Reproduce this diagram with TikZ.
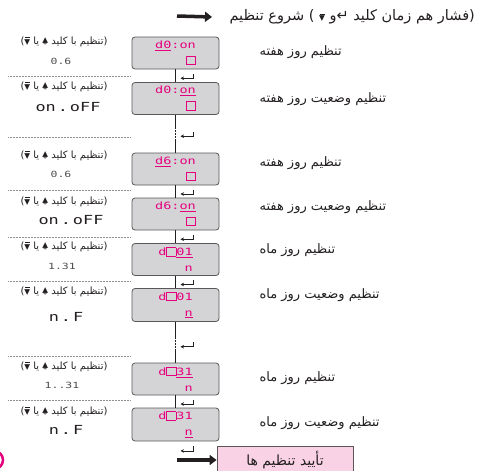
\documentclass[tikz,border=0pt]{standalone}
\usepackage{fontspec}
\setmainfont{DejaVu Sans}
\newfontfamily\farsi[Script=Arabic]{DejaVu Sans}
\newfontfamily\lcdfont[FakeStretch=1.35]{DejaVu Sans Mono}
\TeXXeTstate=1
\usetikzlibrary{arrows.meta,calc}
\definecolor{lcdgray}{HTML}{D4D4D6}
\definecolor{segmag}{HTML}{E5007D}
\definecolor{okpink}{HTML}{F9D3E5}
\definecolor{ink}{HTML}{231F20}
% Teclas de ajuste y casilla del visor
\newcommand{\upk}{\hbox{\fontsize{7.5}{7.5}\selectfont\raisebox{2pt}{▲}\llap{\makebox[5.8pt]{\fontsize{5.5}{5.5}\selectfont\raisebox{-1.6pt}{+}}}}}
\newcommand{\dnk}{\hbox{\fontsize{7.5}{7.5}\selectfont ▼\llap{\makebox[5.8pt]{\rule[6.1pt]{5pt}{0.8pt}}}}}
\newcommand{\sq}{{\setlength{\fboxsep}{0pt}\setlength{\fboxrule}{0.9pt}\fbox{\phantom{0}}}}
\begin{document}
\begin{tikzpicture}[
        x=1pt, y=-1pt,
        % Estilo para los visores LCD
        lcd/.style={draw=ink!75, fill=lcdgray, rounded corners=3pt, line width=0.8pt,
            minimum width=87pt, minimum height=32pt, align=right, text=segmag,
            font=\lcdfont\fontsize{10}{16}\selectfont},
        % Estilo para las descripciones de la derecha
        desc/.style={anchor=west, text=ink, font=\farsi\fontsize{13}{14}\selectfont},
        % Estilo para las indicaciones de teclas
        keyhint/.style={text=ink, inner sep=0.5pt, text height=7pt, text depth=2.5pt,
            font=\farsi\fontsize{10}{11}\selectfont},
        % Estilo para los rangos de valores
        valrange/.style={text=ink!80, inner sep=0.5pt, text height=6pt, text depth=0pt,
            font=\lcdfont\fontsize{8.5}{10}\selectfont},
        onoff/.style={text=ink, inner sep=0.5pt, text height=8.5pt, text depth=0pt,
            font=\lcdfont\fontsize{12.5}{14}\selectfont},
        % Estilo para los separadores punteados
        sep/.style={densely dotted, ink!50, line width=0.5pt},
        % Estilo para las flechas gruesas y las de retorno
        bigarrow/.style={line width=3.5pt, ink, -{Triangle[length=7pt,width=10pt]}},
        hook/.style={line width=0.7pt, ink, -{Stealth[length=3.5pt,width=3.5pt]}},
        okbox/.style={draw=ink!75, fill=okpink, line width=0.8pt, minimum width=136pt,
            minimum height=27pt, text=ink, font=\farsi\fontsize{14}{15}\selectfont}
    ]
        \useasboundingbox (0,0) rectangle (480,471);

        % --- Inicio del ajuste ---
        \coordinate (s1) at (177,16);
        \node[anchor=west, text=ink, font=\farsi\fontsize{14.5}{15}\selectfont] (start) at (226,17)
            {\beginR(فشار هم زمان کلید ↵و \dnk{} ) شروع تنظیم\endR};
        \draw[bigarrow] (s1) -- ([xshift=-14pt]start.west);

        % --- Visores LCD ---
        \node[lcd] (b1) at (175.5,53) {\underline{d0}:on\\\sq};
        \node[lcd] (b2) at (175.5,98.5) {d0:\underline{on}\\\sq};
        \node[lcd] (b3) at (175.5,169) {\underline{d6}:on\\\sq};
        \node[lcd] (b4) at (175.5,214) {d6:\underline{on}\\\sq};
        \node[lcd] (b5) at (175.5,259.5) {d\sq\underline{01}\\n};
        \node[lcd] (b6) at (175.5,305) {d\sq 01\\\underline{n}};
        \node[lcd] (b7) at (175.5,379) {d\sq\underline{31}\\n};
        \node[lcd] (b8) at (175.5,424.5) {d\sq 31\\\underline{n}};

        % --- Conexiones entre visores ---
        \draw[ink] (b1) -- (b2);
        \draw[ink] (b2.south) -- ++(0,12) coordinate (g1);
        \draw[sep, ink] (g1) -- ++(0,14) coordinate (g2);
        \draw[ink] (g2) -- (b3);
        \draw[ink] (b3) -- (b4);
        \draw[ink] (b4) -- (b5);
        \draw[ink] (b5) -- (b6);
        \draw[ink] (b6.south) -- ++(0,15) coordinate (g3);
        \draw[sep, ink] (g3) -- ++(0,14) coordinate (g4);
        \draw[ink] (g4) -- (b7);
        \draw[ink] (b7) -- (b8);

        % Flechas de retorno (tecla de confirmación)
        \draw[hook] ($(b1.south)!0.5!(b2.north)+(17.5,-2)$) |- ++(-12.5,4.5);
        \draw[hook] ($(b2.south)!0.5!(b3.north)+(17.5,-2)$) |- ++(-12.5,4.5);
        \draw[hook] ($(b3.south)!0.5!(b4.north)+(17.5,-2)$) |- ++(-12.5,4.5);
        \draw[hook] ($(b4.south)!0.5!(b5.north)+(17.5,-2)$) |- ++(-12.5,4.5);
        \draw[hook] ($(b5.south)!0.5!(b6.north)+(17.5,-2)$) |- ++(-12.5,4.5);
        \draw[hook] ($(b6.south)!0.5!(b7.north)+(17.5,0)$) |- ++(-12.5,4.5);
        \draw[hook] ($(b7.south)!0.5!(b8.north)+(17.5,-2)$) |- ++(-12.5,4.5);
        \draw[hook] ($(b8.south)+(17.5,5)$) |- ++(-12.5,4.5);

        % --- Confirmación final ---
        \node[okbox] (ok) at (285,460) {\beginR تأیید تنظیم ها\endR};
        \coordinate (s2) at (177,460);
        \draw[bigarrow] (s2) -- (ok.west);
        \draw[segmag, line width=2.5pt] (-6,460) circle (9);

        % --- Descripciones de la derecha ---
        \node[desc] (d1) at (256,52) {\beginR تنظیم روز هفته\endR};
        \node[desc] (d2) at (256,99) {\beginR تنظیم وضعیت روز هفته\endR};
        \node[desc] (d3) at (256,163) {\beginR تنظیم روز هفته\endR};
        \node[desc] (d4) at (256,207) {\beginR تنظیم وضعیت روز هفته\endR};
        \node[desc] (d5) at (256,250) {\beginR تنظیم روز ماه\endR};
        \node[desc] (d6) at (256,295) {\beginR تنظیم وضعیت روز ماه\endR};
        \node[desc] (d7) at (256,378) {\beginR تنظیم روز ماه\endR};
        \node[desc] (d8) at (256,423) {\beginR تنظیم وضعیت روز ماه\endR};

        % --- Indicaciones de teclas y rangos (izquierda) ---
        \node[keyhint] (k1) at (64,42) {\beginR(تنظیم با کلید \upk{} یا \dnk{})\endR};
        \node[valrange] (r1) at (61,61) {0.6};
        \node[keyhint] (k2) at (64,87) {\beginR(تنظیم با کلید \upk{} یا \dnk{})\endR};
        \node[onoff] (r2) at (68,107) {on\kern2pt.\kern2pt oFF};
        \node[keyhint] (k3) at (64,156) {\beginR(تنظیم با کلید \upk{} یا \dnk{})\endR};
        \node[valrange] (r3) at (61,174) {0.6};
        \node[keyhint] (k4) at (64,202) {\beginR(تنظیم با کلید \upk{} یا \dnk{})\endR};
        \node[onoff] (r4) at (71,220) {on\kern2pt.\kern2pt oFF};
        \node[keyhint] (k5) at (64,247) {\beginR(تنظیم با کلید \upk{} یا \dnk{})\endR};
        \node[valrange] (r5) at (62,266) {1.31};
        \node[keyhint] (k6) at (64,292) {\beginR(تنظیم با کلید \upk{} یا \dnk{})\endR};
        \node[onoff] (r6) at (66,317) {n\kern2pt.\kern2pt F};
        \node[keyhint] (k7) at (64,367) {\beginR(تنظیم با کلید \upk{} یا \dnk{})\endR};
        \node[valrange] (r7) at (62,385) {1..31};
        \node[keyhint] (k8) at (64,412) {\beginR(تنظیم با کلید \upk{} یا \dnk{})\endR};
        \node[onoff] (r8) at (66,430) {n\kern2pt.\kern2pt F};

        % --- Separadores punteados ---
        \draw[sep] (8,76) -- (130,76);
        \draw[sep] (8,137) -- (130,137);
        \draw[sep] (8,190) -- (130,190);
        \draw[sep] (8,237) -- (130,237);
        \draw[sep] (8,281) -- (130,281);
        \draw[sep] (8,356) -- (130,356);
        \draw[sep] (8,400) -- (130,400);

    \end{tikzpicture}
\end{document}
